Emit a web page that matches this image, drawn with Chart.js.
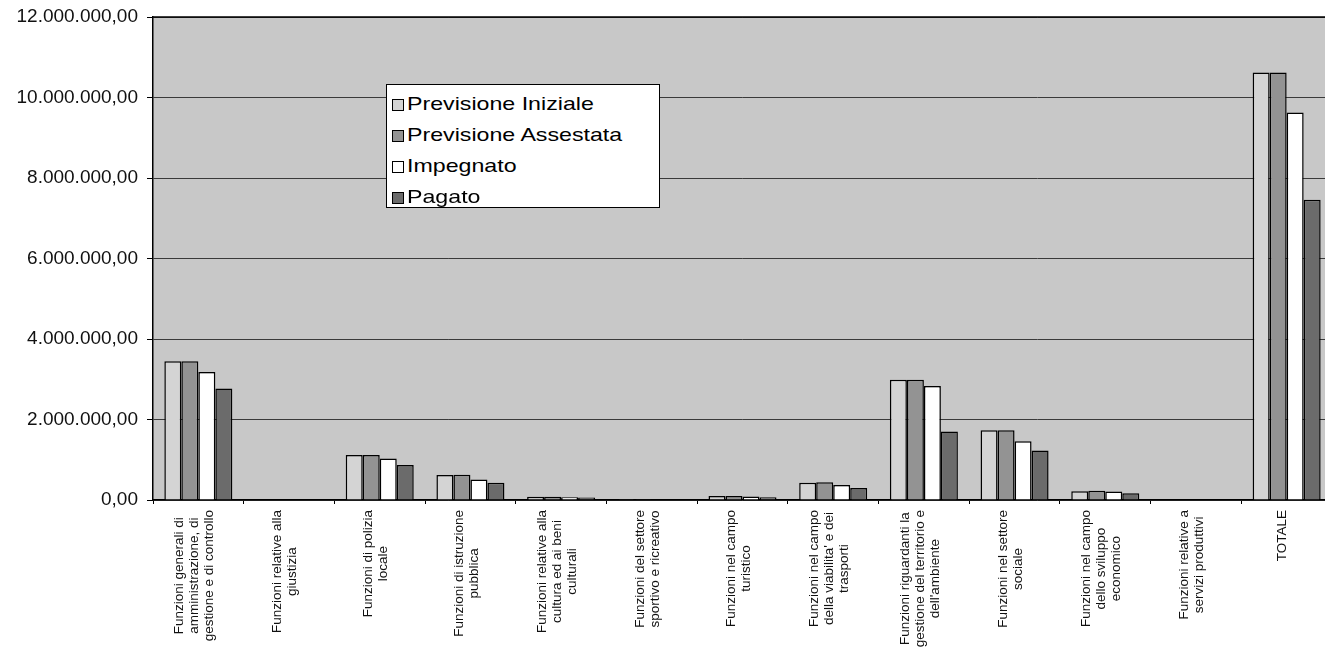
<!DOCTYPE html>
<html>
<head>
<meta charset="utf-8">
<script src="https://cdn.jsdelivr.net/npm/chart.js@4/dist/chart.umd.min.js"></script>
<style>
    html, body { margin: 0; padding: 0; background: #fff; overflow: hidden; }
    #wrap { position: absolute; left: 0; top: 0; width: 1332px; height: 660px; }
    #legend {
        position: absolute; left: 386px; top: 84px; width: 274px; height: 124px;
        background: #fff; border: 1.5px solid #000; box-sizing: border-box;
        font-family: Arial, "Liberation Sans", sans-serif; font-size: 19px; color: #000;
        padding: 3px 0 0 5px;
    }
    #legend .item { height: 31px; line-height: 31px; white-space: nowrap; }
    #legend .sw { display: inline-block; width: 10px; height: 10px; border: 1px solid #000; margin-right: 3px; vertical-align: -1px; }
    #legend .txt { display: inline-block; transform: scaleX(1.22); transform-origin: left center; }
</style>
</head>
<body>
<div id="wrap"><canvas id="chart"></canvas></div>
<div id="legend"></div>
<script>
// Data
const categories = [
    ['Funzioni generali di', 'amministrazione, di', 'gestione e di controllo'],
    ['Funzioni relative alla', 'giustizia'],
    ['Funzioni di polizia', 'locale'],
    ['Funzioni di istruzione', 'pubblica'],
    ['Funzioni relative alla', 'cultura ed ai beni', 'culturali'],
    ['Funzioni del settore', 'sportivo e ricreativo'],
    ['Funzioni nel campo', 'turistico'],
    ['Funzioni nel campo', "della viabilita' e dei", 'trasporti'],
    ['Funzioni riguardanti la', 'gestione del territorio e', "dell'ambiente"],
    ['Funzioni nel settore', 'sociale'],
    ['Funzioni nel campo', 'dello sviluppo', 'economico'],
    ['Funzioni relative a', 'servizi produttivi'],
    ['TOTALE']
];

const previsioneIniziale  = [3450000, 0, 1120000, 620000, 80000, 20000, 100000, 430000, 2990000, 1730000, 220000, 0, 10620000];
const previsioneAssestata = [3450000, 0, 1120000, 630000, 80000, 20000, 100000, 440000, 2990000, 1730000, 230000, 0, 10620000];
const impegnato           = [3180000, 0, 1030000, 510000, 70000, 15000, 90000, 370000, 2830000, 1460000, 210000, 0, 9630000];
const pagato              = [2770000, 0, 870000, 430000, 60000, 10000, 70000, 300000, 1700000, 1230000, 170000, 0, 7460000];

const seriesNames = ['Previsione Iniziale', 'Previsione Assestata', 'Impegnato', 'Pagato'];
const yTickLabels = ['0,00', '2.000.000,00', '4.000.000,00', '6.000.000,00', '8.000.000,00', '10.000.000,00', '12.000.000,00'];

const fills = ['#d4d4d4', '#939393', '#ffffff', '#6b6b6b'];
const FONT = 'Arial, "Liberation Sans", sans-serif';

// plot background + top border
const plotBg = {
    id: 'plotBg',
    beforeDraw(c) {
        const a = c.chartArea, ctx = c.ctx;
        ctx.save();
        ctx.fillStyle = '#c8c8c8';
        ctx.fillRect(a.left, a.top, a.right - a.left, a.bottom - a.top);
        ctx.restore();
    },
    afterDraw(c) {
        const a = c.chartArea, ctx = c.ctx;
        ctx.save();
        ctx.strokeStyle = '#000';
        ctx.lineWidth = 1.5;
        ctx.beginPath();
        ctx.moveTo(a.left, a.top);
        ctx.lineTo(a.right, a.top);
        ctx.stroke();
        ctx.restore();
    }
};

// rotated category labels, lines centred on each other
const xLabels = {
    id: 'xLabels',
    afterDraw(c) {
        const xs = c.scales.x, ctx = c.ctx;
        const top = c.chartArea.bottom + 10;
        const lh = 15;
        ctx.save();
        ctx.font = '13.5px ' + FONT;
        ctx.fillStyle = '#111';
        ctx.textBaseline = 'middle';
        ctx.textAlign = 'center';
        categories.forEach((lines, i) => {
            const x = xs.getPixelForValue(i) - 4;
            const w = Math.max(...lines.map(l => ctx.measureText(l).width));
            const n = lines.length;
            lines.forEach((l, j) => {
                ctx.save();
                ctx.translate(x + (j - (n - 1) / 2) * lh, top + w / 2);
                ctx.rotate(-Math.PI / 2);
                ctx.fillText(l, 0, 0);
                ctx.restore();
            });
        });
        ctx.restore();
    }
};

const seriesData = [previsioneIniziale, previsioneAssestata, impegnato, pagato];

new Chart(document.getElementById('chart'), {
    type: 'bar',
    data: {
        labels: categories.map(c => c.join(' ')),
        datasets: seriesNames.map((name, i) => ({
            label: name,
            data: seriesData[i],
            backgroundColor: fills[i],
            borderColor: '#000',
            borderWidth: 1.5,
            borderSkipped: 'bottom',
            barPercentage: 1,
            categoryPercentage: 0.75
        }))
    },
    options: {
        responsive: true,
        maintainAspectRatio: false,
        animation: false,
        layout: { padding: { top: 17, left: 0, right: 0, bottom: 0 } },
        plugins: { legend: { display: false }, tooltip: { enabled: false } },
        scales: {
            x: {
                ticks: { display: false },
                grid: { drawOnChartArea: false, drawTicks: true, tickLength: 4, color: '#000' },
                border: { color: '#000', width: 1.5 },
                afterFit: (s) => { s.height = 160; }
            },
            y: {
                min: 0, max: 12000000,
                ticks: {
                    stepSize: 2000000,
                    padding: 9,
                    color: '#111',
                    font: { family: FONT, size: 19 },
                    callback: (v) => yTickLabels[Math.round(v / 2000000)]
                },
                grid: { color: '#3a3a3a', lineWidth: 1, tickLength: 6, tickColor: '#000' },
                border: { color: '#000', width: 1.5 },
                afterFit: (s) => { s.width = 153; s.paddingTop = 0; s.paddingBottom = 0; }
            }
        }
    },
    plugins: [plotBg, xLabels]
});

document.getElementById('legend').innerHTML = seriesNames.map((n, i) =>
    `<div class="item"><span class="sw" style="background:${fills[i]}"></span><span class="txt">${n}</span></div>`).join('');
</script>
</body>
</html>
